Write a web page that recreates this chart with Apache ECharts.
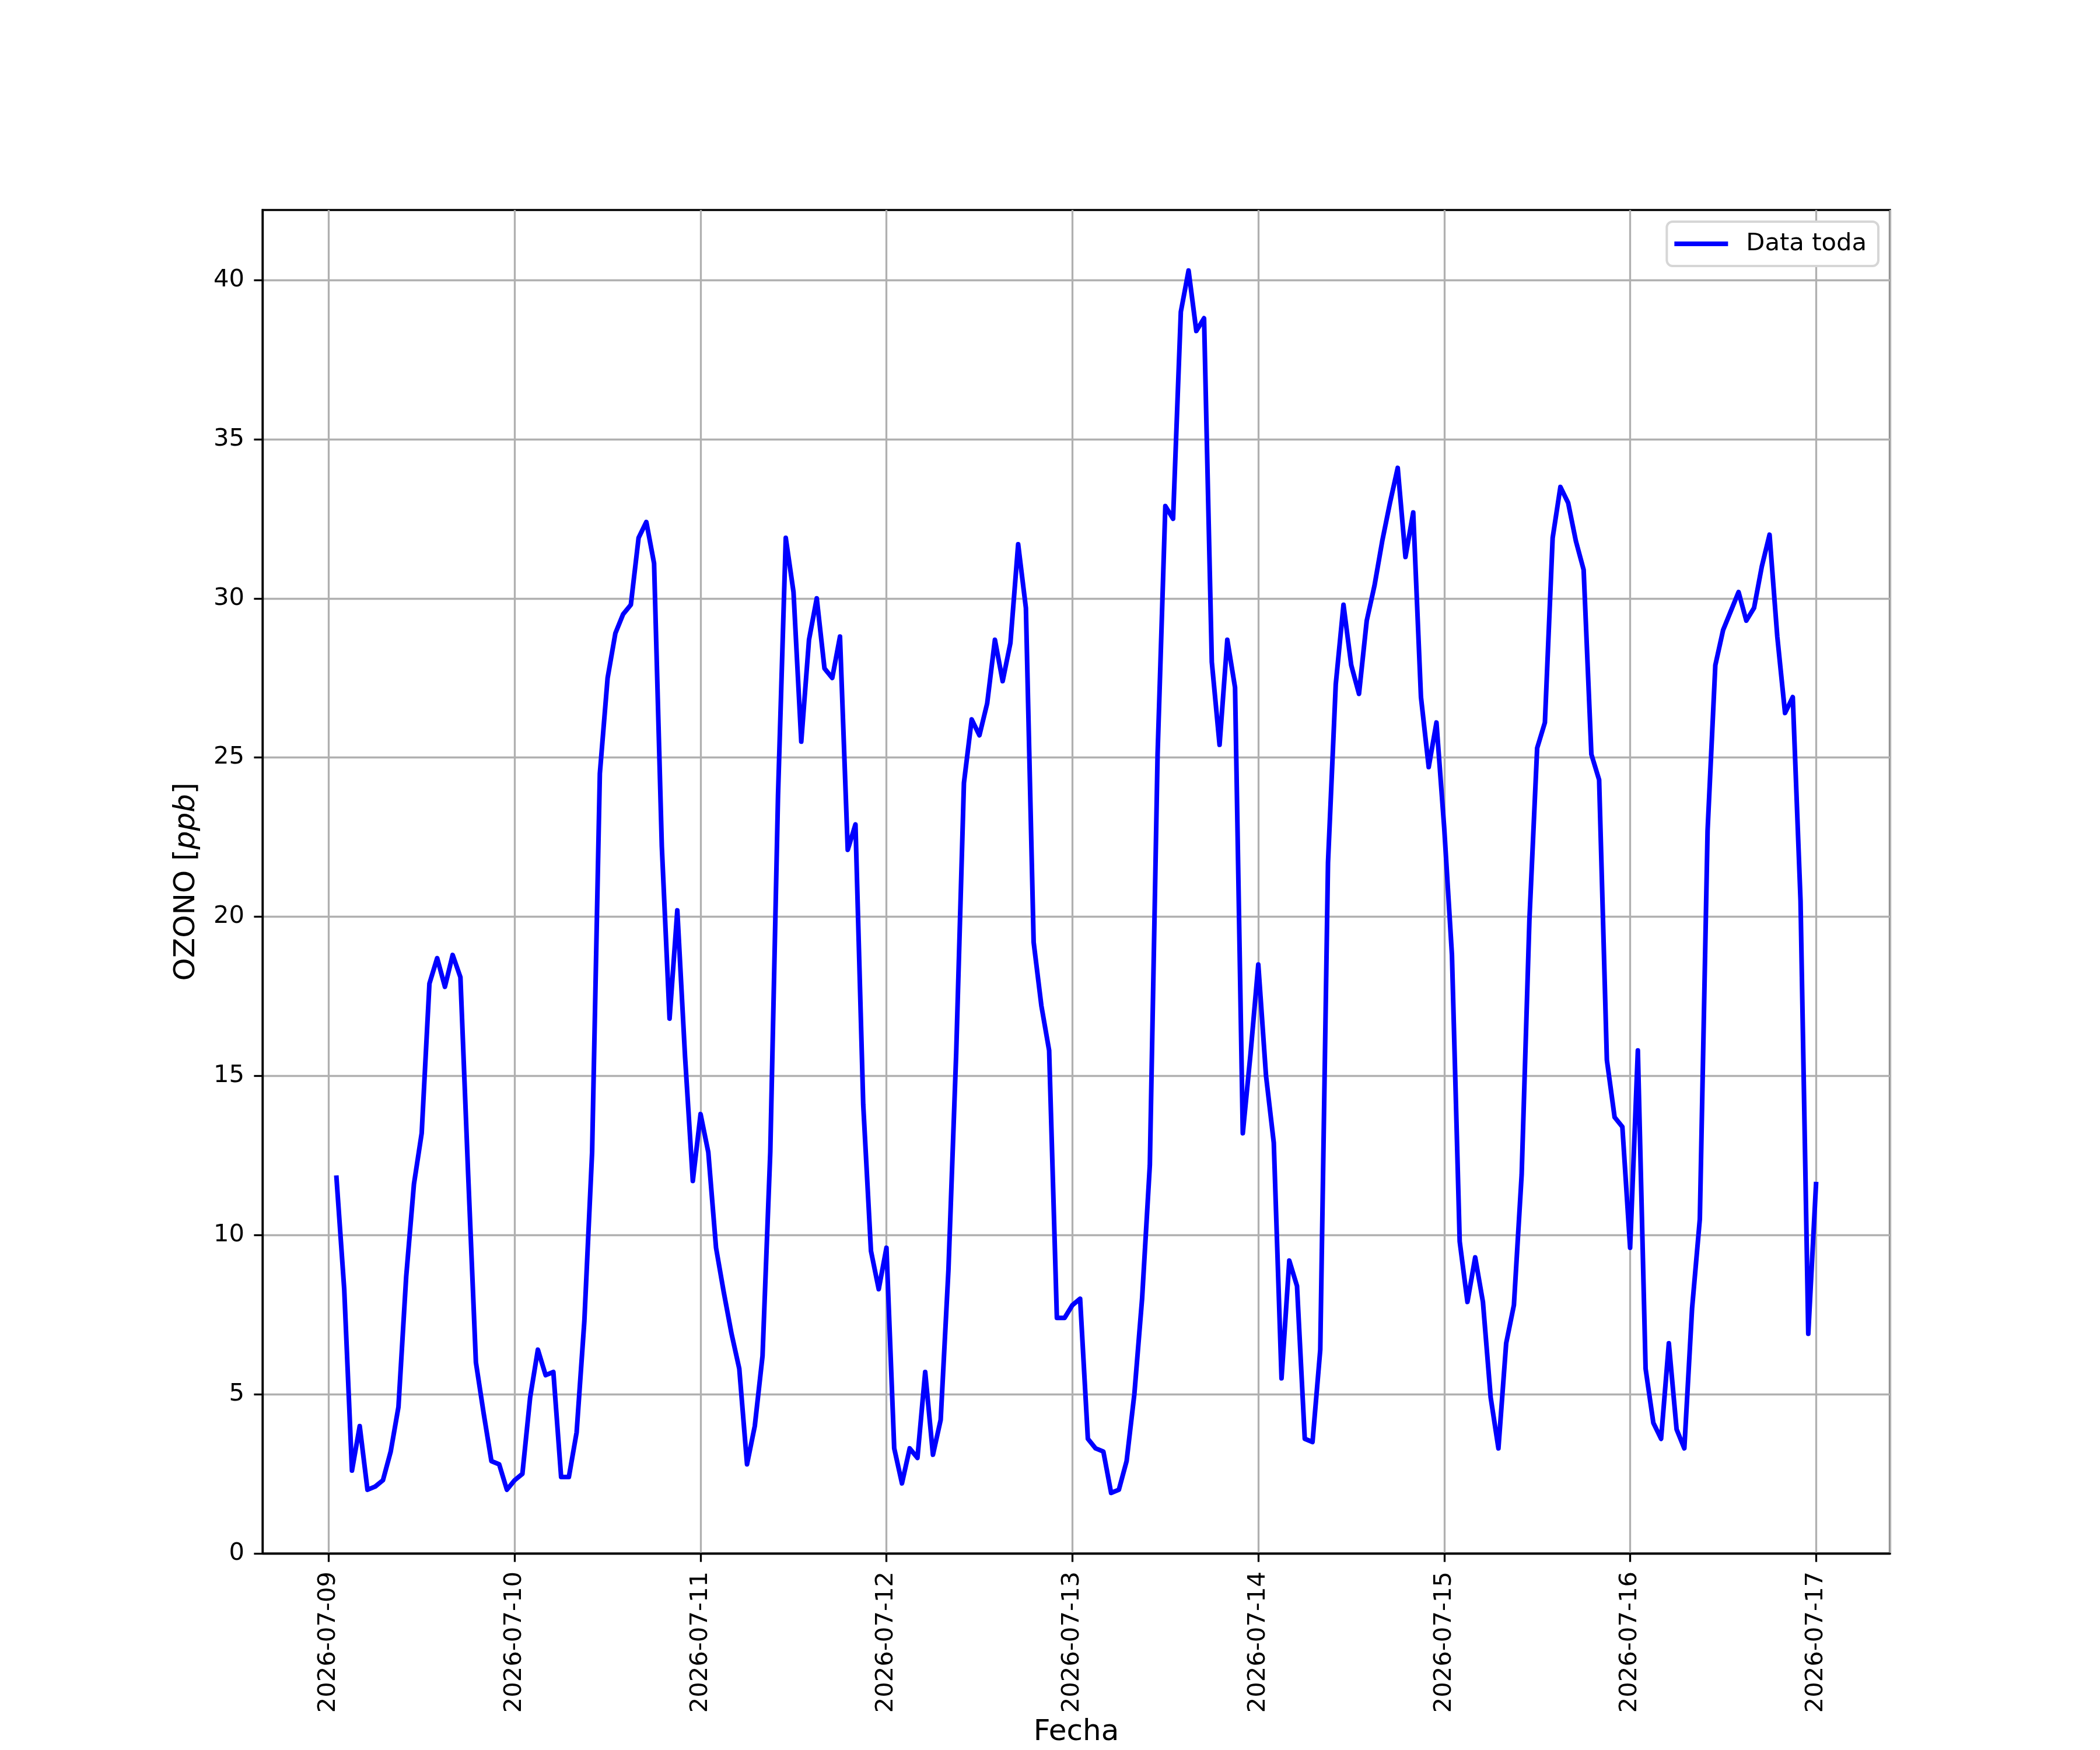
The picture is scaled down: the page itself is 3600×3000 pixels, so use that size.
<!DOCTYPE html>
<html>
<head>
<meta charset="utf-8">
<script src="https://cdn.jsdelivr.net/npm/echarts@6/dist/echarts.min.js"></script>
<style>
html,body{margin:0;padding:0;background:#fff;}
#chart{width:3600px;height:3000px;}
</style>
</head>
<body>
<div id="chart"></div>
<script>
// ---- data (hourly, first reading 2026-07-09 01:00) ----
const seriesName = 'Data toda';
const firstReading = '2026-07-09T01:00:00Z';
const ozone = [
  11.8, 8.3, 2.6, 4.0, 2.0, 2.1, 2.3, 3.2, 4.6, 8.7, 11.6, 13.2,
  17.9, 18.7, 17.8, 18.8, 18.1, 11.9, 6.0, 4.4, 2.9, 2.8, 2.0, 2.3,
  2.5, 4.9, 6.4, 5.6, 5.7, 2.4, 2.4, 3.8, 7.3, 12.6, 24.5, 27.5,
  28.9, 29.5, 29.8, 31.9, 32.4, 31.1, 22.2, 16.8, 20.2, 15.6, 11.7, 13.8,
  12.6, 9.6, 8.2, 6.9, 5.8, 2.8, 4.0, 6.2, 12.6, 23.8, 31.9, 30.2,
  25.5, 28.7, 30.0, 27.8, 27.5, 28.8, 22.1, 22.9, 14.1, 9.5, 8.3, 9.6,
  3.3, 2.2, 3.3, 3.0, 5.7, 3.1, 4.2, 8.9, 15.7, 24.2, 26.2, 25.7,
  26.7, 28.7, 27.4, 28.6, 31.7, 29.7, 19.2, 17.2, 15.8, 7.4, 7.4, 7.8,
  8.0, 3.6, 3.3, 3.2, 1.9, 2.0, 2.9, 5.0, 8.0, 12.2, 25.1, 32.9,
  32.5, 39.0, 40.3, 38.4, 38.8, 28.0, 25.4, 28.7, 27.2, 13.2, 15.7, 18.5,
  15.0, 12.9, 5.5, 9.2, 8.4, 3.6, 3.5, 6.4, 21.7, 27.3, 29.8, 27.9,
  27.0, 29.3, 30.4, 31.8, 33.0, 34.1, 31.3, 32.7, 26.9, 24.7, 26.1, 22.8,
  18.8, 9.8, 7.9, 9.3, 7.9, 4.9, 3.3, 6.6, 7.8, 11.9, 19.9, 25.3,
  26.1, 31.9, 33.5, 33.0, 31.8, 30.9, 25.1, 24.3, 15.5, 13.7, 13.4, 9.6,
  15.8, 5.8, 4.1, 3.6, 6.6, 3.9, 3.3, 7.7, 10.5, 22.7, 27.9, 29.0,
  29.6, 30.2, 29.3, 29.7, 31.0, 32.0, 28.8, 26.4, 26.9, 20.5, 6.9, 11.6
];
const yTicks = [0, 5, 10, 15, 20, 25, 30, 35, 40];
const xAxisName = 'Fecha';
const yAxisName = '{n|OZONO [}{i|ppb}{n|]}';

// ---- build series points ----
const HOUR = 3600000;
const t0 = Date.parse(firstReading);
const points = ozone.map((v, i) => [t0 + i * HOUR, v]);
const tFirst = points[0][0];
const tLast = points[points.length - 1][0];
const pad = (tLast - tFirst) * 0.05;

function pad2(n){ return (n < 10 ? '0' : '') + n; }
function fmtDate(v){
  const d = new Date(v);
  return d.getUTCFullYear() + '-' + pad2(d.getUTCMonth() + 1) + '-' + pad2(d.getUTCDate());
}

const FONT = 'DejaVu Sans';
const chart = echarts.init(document.getElementById('chart'), null, {renderer: 'canvas'});
chart.setOption({
  useUTC: true,
  animation: false,
  backgroundColor: '#ffffff',
  textStyle: {fontFamily: FONT, color: '#000'},
  grid: {
    left: 450, right: 360, top: 360, bottom: 330,
    show: true, borderColor: '#000', borderWidth: 3.3, backgroundColor: 'transparent'
  },
  legend: {
    show: true,
    right: 380, top: 380,
    orient: 'vertical',
    icon: 'rect',
    itemWidth: 92, itemHeight: 8,
    padding: [17, 20, 17, 13],
    backgroundColor: '#ffffff',
    borderColor: '#d6d6d6', borderWidth: 4, borderRadius: 10,
    textStyle: {fontFamily: FONT, fontSize: 41.7, color: '#000', padding: [0, 0, 0, 26]},
    data: [{name: seriesName, itemStyle: {color: '#0000ff'}}]
  },
  xAxis: {
    type: 'time',
    min: tFirst - pad,
    max: tLast + pad,
    minInterval: 24 * HOUR,
    maxInterval: 24 * HOUR,
    name: xAxisName,
    nameLocation: 'middle',
    nameGap: 282,
    nameTextStyle: {fontFamily: FONT, fontSize: 50, color: '#000', verticalAlign: 'top'},
    axisLine: {show: true, lineStyle: {color: '#000', width: 3.3}},
    axisTick: {show: true, inside: false, length: 14.6, lineStyle: {color: '#000', width: 3.3}},
    axisLabel: {
      rotate: 90, margin: 31, fontFamily: FONT, fontSize: 41.7, color: '#000',
      hideOverlap: false, showMinLabel: false, showMaxLabel: false,
      formatter: fmtDate
    },
    splitLine: {show: true, lineStyle: {color: '#b0b0b0', width: 3.3}}
  },
  yAxis: {
    type: 'value',
    min: 0,
    max: 42.2,
    interval: 5,
    name: yAxisName,
    nameLocation: 'middle',
    nameRotate: 90,
    nameGap: 105,
    nameTextStyle: {
      fontFamily: FONT, fontSize: 50, color: '#000',
      rich: {
        n: {fontFamily: FONT, fontSize: 50, color: '#000'},
        i: {fontFamily: FONT, fontSize: 50, color: '#000', fontStyle: 'italic'}
      }
    },
    axisLine: {show: true, lineStyle: {color: '#000', width: 3.3}},
    axisTick: {show: true, inside: false, length: 14.6, lineStyle: {color: '#000', width: 3.3}, customValues: yTicks},
    axisLabel: {
      margin: 31, fontFamily: FONT, fontSize: 41.7, color: '#000',
      customValues: yTicks,
      formatter: v => String(v)
    },
    splitLine: {show: true, lineStyle: {color: '#b0b0b0', width: 3.3}}
  },
  series: [{
    name: seriesName,
    type: 'line',
    data: points,
    showSymbol: false,
    symbol: 'none',
    smooth: false,
    color: '#0000ff',
    lineStyle: {color: '#0000ff', width: 8, join: 'round', cap: 'square'},
    z: 3
  }]
});
</script>
</body>
</html>
